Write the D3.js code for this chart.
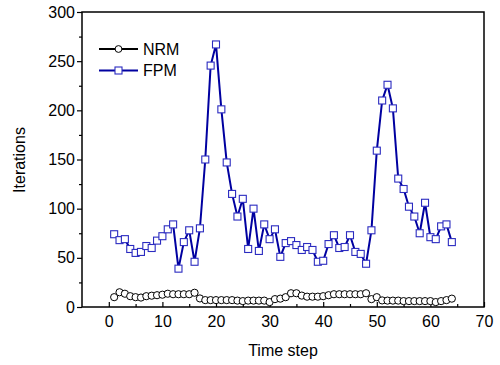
<!DOCTYPE html>
<html>
<head>
<meta charset="utf-8">
<script src="https://d3js.org/d3.v7.min.js"></script>
<style>
  body { margin: 0; background: #fff; }
  text { font-family: Arial, "Liberation Sans", sans-serif; fill: #000; }
</style>
</head>
<body>
<div id="chart"></div>
<script>
// time steps 1..64
const steps = d3.range(1, 65);

const nrm = [10, 15, 13.5, 11, 10, 9.6, 11, 11.5, 12, 12.5,
             13.5, 13, 13, 13, 13, 14.5, 8.7, 7, 7, 7,
             7, 7, 7, 6.5, 6, 6.5, 6.5, 6.5, 6.5, 5,
             8, 8.5, 10, 14, 14, 11.6, 10.5, 10.5, 10.5, 11,
             12, 13, 13, 13, 13, 13, 13, 14, 8, 10,
             6.7, 6.5, 6.5, 6.5, 6, 6, 6, 6, 6, 6,
             5, 6, 7, 8.5];

const fpm = [74, 68, 69, 59, 55, 56, 62, 60, 67.5, 72,
             79, 84, 39, 66, 78, 46, 80, 150, 245.5, 267,
             201, 147, 115, 92, 110, 59, 100, 57, 84, 69,
             79, 51, 65, 67, 63, 58, 61, 58, 46, 47,
             64, 73, 60, 61, 73, 56, 54, 44, 78, 159,
             210, 226, 202, 130.6, 120, 102, 92, 75, 106, 71,
             69, 82, 84, 66];

const xTicks = [0, 10, 20, 30, 40, 50, 60, 70];
const yTicks = [0, 50, 100, 150, 200, 250, 300];

const W = 500, H = 365;
const m = { left: 82, right: 16, top: 12, bottom: 58 };

const svg = d3.select("#chart").append("svg")
  .attr("width", W).attr("height", H);

const x = d3.scaleLinear().domain([-5, 70]).range([m.left, W - m.right]);
const y = d3.scaleLinear().domain([0, 300]).range([H - m.bottom, m.top]);

// frame
svg.append("rect")
  .attr("x", m.left).attr("y", m.top)
  .attr("width", W - m.right - m.left).attr("height", H - m.bottom - m.top)
  .attr("fill", "none").attr("stroke", "#000").attr("stroke-width", 1.5);

// x axis: ticks pointing inward
svg.append("g")
  .attr("transform", `translate(0,${H - m.bottom})`)
  .call(d3.axisBottom(x).tickValues(xTicks).tickSize(-5).tickPadding(9).tickFormat(d3.format("d")));
svg.append("g")
  .attr("transform", `translate(0,${H - m.bottom})`)
  .call(d3.axisBottom(x).tickValues(d3.range(5, 70, 10)).tickSize(-3).tickFormat(""));

// y axis: ticks pointing outward
svg.append("g")
  .attr("transform", `translate(${m.left},0)`)
  .call(d3.axisLeft(y).tickValues(yTicks).tickSize(5).tickPadding(2).tickFormat(d3.format("d")));
svg.append("g")
  .attr("transform", `translate(${m.left},0)`)
  .call(d3.axisLeft(y).tickValues(d3.range(25, 300, 50)).tickSize(3).tickFormat(""));

svg.selectAll(".domain").remove();
svg.selectAll(".tick line").attr("stroke", "#000").attr("stroke-width", 1.2);
svg.selectAll(".tick text").attr("font-size", 16).attr("font-family", "Arial, 'Liberation Sans', sans-serif");

// axis titles
svg.append("text")
  .attr("x", (m.left + W - m.right) / 2).attr("y", 356)
  .attr("text-anchor", "middle").attr("font-size", 16)
  .text("Time step");
svg.append("text")
  .attr("transform", `translate(25,160) rotate(-90)`)
  .attr("text-anchor", "middle").attr("font-size", 16)
  .text("Iterations");

const line = d3.line().x((d, i) => x(steps[i])).y(d => y(d));

// NRM series
svg.append("path").datum(nrm)
  .attr("d", line).attr("fill", "none")
  .attr("stroke", "#000").attr("stroke-width", 1.5);
svg.append("g").selectAll("circle").data(nrm).join("circle")
  .attr("cx", (d, i) => x(steps[i])).attr("cy", d => y(d))
  .attr("r", 3.6).attr("fill", "#fff").attr("stroke", "#000").attr("stroke-width", 1);

// FPM series
svg.append("path").datum(fpm)
  .attr("d", line).attr("fill", "none")
  .attr("stroke", "#0000a0").attr("stroke-width", 2);
svg.append("g").selectAll("rect").data(fpm).join("rect")
  .attr("x", (d, i) => x(steps[i]) - 3.5).attr("y", d => y(d) - 3.5)
  .attr("width", 7).attr("height", 7)
  .attr("fill", "#fff").attr("stroke", "#2b2bc0").attr("stroke-width", 1.1);

// legend
const leg = svg.append("g");
leg.append("line").attr("x1", 99).attr("x2", 138).attr("y1", 49).attr("y2", 49)
  .attr("stroke", "#000").attr("stroke-width", 2);
leg.append("circle").attr("cx", 118.5).attr("cy", 49).attr("r", 3.4)
  .attr("fill", "#fff").attr("stroke", "#000");
leg.append("text").attr("x", 143).attr("y", 54.5).attr("font-size", 16).text("NRM");

leg.append("line").attr("x1", 99).attr("x2", 138).attr("y1", 70.5).attr("y2", 70.5)
  .attr("stroke", "#0000a0").attr("stroke-width", 2);
leg.append("rect").attr("x", 115).attr("y", 67).attr("width", 7).attr("height", 7)
  .attr("fill", "#fff").attr("stroke", "#2b2bc0").attr("stroke-width", 1.1);
leg.append("text").attr("x", 143).attr("y", 76).attr("font-size", 16).text("FPM");
</script>
</body>
</html>
